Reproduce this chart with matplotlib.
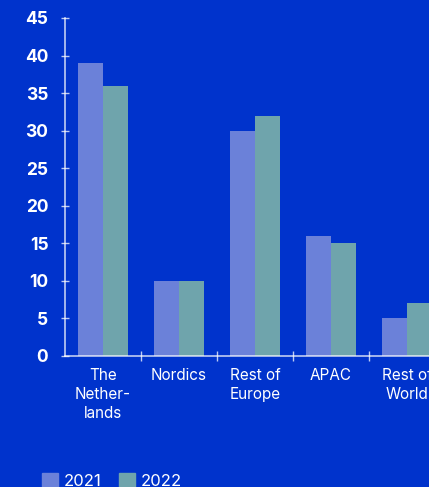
import numpy as np
import matplotlib.pyplot as plt
from matplotlib.patches import Patch

# revenue share by region (%)
regions = ["The\nNether-\nlands", "Nordics", "Rest of\nEurope", "APAC", "Rest of\nWorld"]
values_2021 = [39, 10, 30, 16, 5]
values_2022 = [36, 10, 32, 15, 7]
years = ["2021", "2022"]
y_ticks = [0, 5, 10, 15, 20, 25, 30, 35, 40, 45]

bg = "#0033cc"
c2021 = "#6b81d9"
c2022 = "#6fa4ac"
axis_col = (1, 1, 1, 0.75)

plt.rcParams['font.family'] = ['Inter', 'DejaVu Sans']

fig = plt.figure(figsize=(4.29, 4.87), dpi=100, facecolor=bg)
# axes runs past the right edge, the last group is clipped
ax = fig.add_axes([65 / 429, 131 / 487, 380 / 429, 338 / 487], facecolor=bg)

x = np.arange(len(regions))
w = 0.33
ax.bar(x - w / 2, values_2021, width=w, color=c2021, zorder=2)
ax.bar(x + w / 2, values_2022, width=w, color=c2022, zorder=2)

ax.set_xlim(-0.5, len(regions) - 0.5)
ax.set_ylim(0, 45)
ax.set_yticks(y_ticks)
ax.set_xticks(x)
ax.set_xticklabels(regions, fontsize=11, color="white", linespacing=1.3)
ax.set_xticks(x[:-1] + 0.5, minor=True)
ax.tick_params(axis="x", which="major", length=0, pad=9)
ax.tick_params(axis="x", which="minor", length=7, direction="inout", color=axis_col, width=1)
ax.tick_params(axis="y", length=6, direction="inout", color=axis_col, width=1, pad=9,
               labelsize=12.5, labelcolor="white")
for lbl in ax.get_yticklabels():
    lbl.set_fontweight("bold")

for side in ["top", "right"]:
    ax.spines[side].set_visible(False)
for side in ["left", "bottom"]:
    ax.spines[side].set_color(axis_col)
    ax.spines[side].set_linewidth(1.2)

handles = [Patch(color=c2021), Patch(color=c2022)]
fig.legend(handles, years, loc="upper left", bbox_to_anchor=(27 / 429, 1 - 458 / 487),
           ncol=2, frameon=False, fontsize=12, labelcolor="white",
           handlelength=0.95, handleheight=0.95, handletextpad=0.35, columnspacing=1.05)

fig.savefig("out.png", dpi=100, facecolor=bg)
